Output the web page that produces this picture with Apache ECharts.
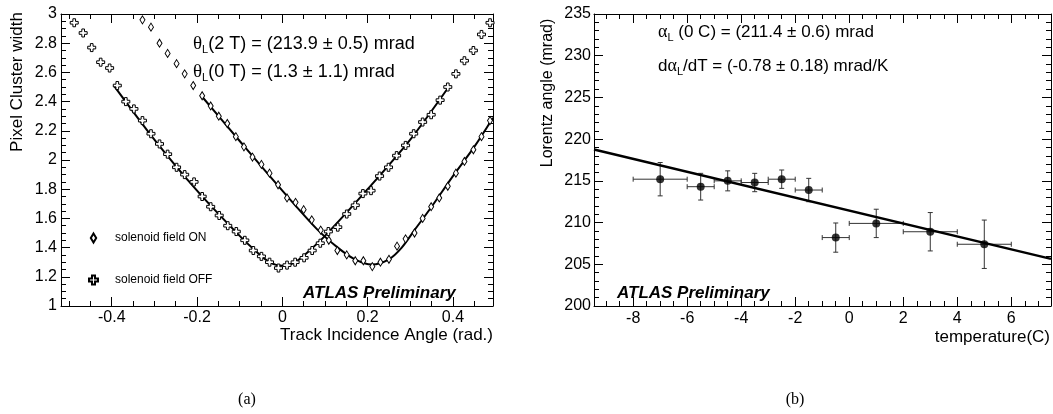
<!DOCTYPE html>
<html>
<head>
<meta charset="utf-8">
<script src="https://cdn.jsdelivr.net/npm/echarts@6/dist/echarts.min.js"></script>
<style>
  html, body { margin: 0; padding: 0; background: #fff; }
  #chart { width: 1053px; height: 414px; }
</style>
</head>
<body>
<div id="chart"></div>
<script>
// (a) pixel cluster width vs track incidence angle
const offAngle = [-0.488, -0.467, -0.447, -0.426, -0.405, -0.387, -0.367, -0.348, -0.328, -0.308,
  -0.288, -0.269, -0.248, -0.229, -0.207, -0.188, -0.168, -0.148, -0.128, -0.108,
  -0.088, -0.068, -0.049, -0.030, -0.009, 0.011, 0.030, 0.051, 0.070, 0.089,
  0.108, 0.130, 0.151, 0.171, 0.189, 0.208, 0.228, 0.249, 0.268, 0.289,
  0.308, 0.329, 0.349, 0.370, 0.388, 0.407, 0.427, 0.448, 0.467, 0.487];
const offWidth = [2.94, 2.87, 2.77, 2.67, 2.63, 2.51, 2.40, 2.35, 2.27, 2.18,
  2.11, 2.04, 1.95, 1.90, 1.85, 1.75, 1.68, 1.62, 1.55, 1.51,
  1.45, 1.38, 1.34, 1.30, 1.26, 1.28, 1.30, 1.33, 1.38, 1.43,
  1.51, 1.54, 1.63, 1.69, 1.77, 1.79, 1.89, 1.95, 2.03, 2.10,
  2.18, 2.26, 2.31, 2.41, 2.50, 2.59, 2.68, 2.75, 2.86, 2.94];

const onAngle = [-0.328, -0.308, -0.288, -0.269, -0.248, -0.229, -0.209, -0.188, -0.168, -0.149,
  -0.129, -0.109, -0.090, -0.070, -0.049, -0.030, -0.010, 0.011, 0.031, 0.050,
  0.069, 0.090, 0.109, 0.129, 0.151, 0.171, 0.190, 0.211, 0.230, 0.250,
  0.269, 0.289, 0.310, 0.329, 0.349, 0.368, 0.388, 0.407, 0.427, 0.448,
  0.467, 0.487];
const onWidth = [2.96, 2.91, 2.80, 2.73, 2.66, 2.59, 2.51, 2.44, 2.37, 2.30,
  2.25, 2.16, 2.09, 2.02, 1.97, 1.91, 1.83, 1.74, 1.71, 1.66,
  1.59, 1.52, 1.45, 1.38, 1.35, 1.31, 1.31, 1.27, 1.30, 1.32,
  1.41, 1.46, 1.50, 1.60, 1.68, 1.74, 1.82, 1.91, 1.99, 2.07,
  2.16, 2.27];

// fit curves
const offFitAngle = [-0.395, -0.3, -0.2, -0.1, -0.06, -0.03, 0.0, 0.03, 0.06, 0.1, 0.2, 0.3, 0.39];
const offFitWidth = [2.51, 2.14, 1.79, 1.48, 1.37, 1.30, 1.275, 1.30, 1.37, 1.48, 1.80, 2.14, 2.50];
const onFitAngle = [-0.19, -0.1, 0.0, 0.08, 0.13, 0.17, 0.21, 0.25, 0.28, 0.31, 0.35, 0.40, 0.45, 0.494];
const onFitWidth = [2.44, 2.13, 1.79, 1.53, 1.40, 1.32, 1.285, 1.32, 1.40, 1.52, 1.68, 1.89, 2.09, 2.29];

// (b) Lorentz angle vs temperature
const temperature = [-7, -5.5, -4.5, -3.5, -2.5, -1.5, -0.5, 1, 3, 5];
const temperatureErr = [1, 0.5, 0.5, 0.5, 0.5, 0.5, 0.5, 1, 1, 1];
const lorentzAngle = [215.2, 214.3, 215.0, 214.8, 215.2, 213.9, 208.2, 209.9, 208.9, 207.4];
const lorentzAngleErr = [2.0, 1.6, 1.2, 1.1, 1.1, 1.4, 1.75, 1.7, 2.3, 2.9];
const lineTemp = [-9.45, 7.47];
const lineAngle = [218.75, 205.65];

const FONT = "'Liberation Sans', Arial, Helvetica, sans-serif";
const SERIF = "'Liberation Serif', 'Times New Roman', serif";
const DIAMOND = "path://M3,0 L6,5 L3,10 L0,5 Z";
const CROSS = "path://M3,0 L6,0 L6,3 L9,3 L9,6 L6,6 L6,9 L3,9 L3,6 L0,6 L0,3 L3,3 Z";

const zip = (xs, ys) => xs.map((x, i) => [x, ys[i]]);

function frameAxis(extra) {
  return Object.assign({
    type: "value",
    axisLine: { show: true, onZero: false, lineStyle: { color: "#000", width: 1 } },
    axisTick: { show: true, inside: true, length: 9, lineStyle: { color: "#000" } },
    splitLine: { show: false },
  }, extra);
}
const minor = (n) => ({ show: true, splitNumber: n, length: 5, lineStyle: { color: "#000" } });
const labels = (margin, edges) => ({ color: "#000", fontSize: 16, fontFamily: FONT, margin,
  showMinLabel: edges, showMaxLabel: edges });

const annot = (x, y, text, size) => ({
  type: "text", x, y,
  style: {
    text, font: size + "px " + FONT, fill: "#000", lineHeight: 22,
    rich: { s: { fontFamily: SERIF, fontSize: size + 1, lineHeight: 22 },
            sub: { fontSize: 11, lineHeight: 11, verticalAlign: "bottom" } },
  },
});

const chart = echarts.init(document.getElementById("chart"), null, { renderer: "canvas" });

const option = {
  animation: false,
  backgroundColor: "#fff",
  grid: [
    { left: 61, top: 14, width: 432, height: 292 },
    { left: 594, top: 14, width: 457, height: 292 },
  ],
  xAxis: [
    frameAxis({ gridIndex: 0, position: "bottom", min: -0.519, max: 0.494, splitNumber: 5,
      minorTick: minor(4), axisLabel: labels(4, false) }),
    frameAxis({ gridIndex: 0, position: "top", min: -0.519, max: 0.494, splitNumber: 5,
      minorTick: minor(4), axisLabel: { show: false } }),
    frameAxis({ gridIndex: 1, position: "bottom", min: -9.45, max: 7.47, splitNumber: 8,
      minorTick: minor(4), axisLabel: labels(5, false) }),
    frameAxis({ gridIndex: 1, position: "top", min: -9.45, max: 7.47, splitNumber: 8,
      minorTick: minor(4), axisLabel: { show: false } }),
  ],
  yAxis: [
    frameAxis({ gridIndex: 0, position: "left", min: 1, max: 3, interval: 0.2,
      minorTick: minor(4), axisLabel: labels(4, true) }),
    frameAxis({ gridIndex: 0, position: "right", min: 1, max: 3, interval: 0.2,
      minorTick: minor(4), axisLabel: { show: false } }),
    frameAxis({ gridIndex: 1, position: "left", min: 200, max: 235, interval: 5,
      minorTick: minor(5), axisLabel: labels(3, true) }),
    frameAxis({ gridIndex: 1, position: "right", min: 200, max: 235, interval: 5,
      minorTick: minor(5), axisLabel: { show: false } }),
  ],
  legend: {
    orient: "vertical",
    left: 83,
    top: 226,
    itemWidth: 9,
    itemHeight: 9,
    itemGap: 28,
    symbolKeepAspect: true,
    data: ["solenoid field ON", "solenoid field OFF"],
    textStyle: { color: "#000", fontSize: 12, fontFamily: FONT, lineHeight: 14, padding: [0, 0, 0, 12] },
  },
  series: [
    {
      name: "fit OFF", type: "line", xAxisIndex: 0, yAxisIndex: 0,
      data: zip(offFitAngle, offFitWidth), smooth: 0.3, showSymbol: false, silent: true,
      lineStyle: { color: "#000", width: 2 }, z: 1,
    },
    {
      name: "fit ON", type: "line", xAxisIndex: 0, yAxisIndex: 0,
      data: zip(onFitAngle, onFitWidth), smooth: 0.3, showSymbol: false, silent: true,
      lineStyle: { color: "#000", width: 2 }, z: 1,
    },
    {
      name: "solenoid field ON", type: "scatter", xAxisIndex: 0, yAxisIndex: 0,
      data: zip(onAngle, onWidth), symbol: DIAMOND, symbolSize: [5, 8],
      itemStyle: { color: "#fff", borderColor: "#000", borderWidth: 1, opacity: 1 }, z: 3,
    },
    {
      name: "solenoid field OFF", type: "scatter", xAxisIndex: 0, yAxisIndex: 0,
      data: zip(offAngle, offWidth), symbol: CROSS, symbolSize: 8,
      itemStyle: { color: "#fff", borderColor: "#000", borderWidth: 1, opacity: 1 }, z: 3,
    },
    {
      name: "errors", type: "custom", xAxisIndex: 2, yAxisIndex: 2,
      data: temperature.map((t, i) => [t, lorentzAngle[i], temperatureErr[i], lorentzAngleErr[i]]),
      renderItem: function (params, api) {
        const x = api.value(0), y = api.value(1), ex = api.value(2), ey = api.value(3);
        const l = api.coord([x - ex, y]), r = api.coord([x + ex, y]);
        const t = api.coord([x, y + ey]), b = api.coord([x, y - ey]);
        const c = 2.5;
        const st = { stroke: "#333", lineWidth: 1 };
        const seg = (x1, y1, x2, y2) => ({ type: "line", shape: { x1, y1, x2, y2 }, style: st });
        return {
          type: "group",
          children: [
            seg(l[0], l[1], r[0], r[1]),
            seg(t[0], t[1], b[0], b[1]),
            seg(l[0], l[1] - c, l[0], l[1] + c),
            seg(r[0], r[1] - c, r[0], r[1] + c),
            seg(t[0] - c, t[1], t[0] + c, t[1]),
            seg(b[0] - c, b[1], b[0] + c, b[1]),
          ],
        };
      },
      z: 2,
    },
    {
      name: "fit", type: "line", xAxisIndex: 2, yAxisIndex: 2,
      data: zip(lineTemp, lineAngle), showSymbol: false, silent: true,
      lineStyle: { color: "#000", width: 2.5 }, z: 3,
    },
    {
      name: "Lorentz angle", type: "scatter", xAxisIndex: 2, yAxisIndex: 2,
      data: zip(temperature, lorentzAngle), symbol: "circle", symbolSize: 8,
      itemStyle: { color: "#000" }, z: 4,
    },
  ],
  graphic: [
    { type: "text", x: 17, y: 82, rotation: Math.PI / 2,
      style: { text: "Pixel Cluster width", font: "17px " + FONT, fill: "#000", align: "center", verticalAlign: "middle" } },
    { type: "text", x: 493, y: 335,
      style: { text: "Track Incidence Angle (rad.)", font: "17px " + FONT, fill: "#000", align: "right", verticalAlign: "middle" } },
    annot(193, 33, "{s|θ}{sub|L}(2 T) = (213.9 ± 0.5) mrad", 18),
    annot(193, 61, "{s|θ}{sub|L}(0 T) = (1.3 ± 1.1) mrad", 18),
    { type: "text", x: 303, y: 293,
      style: { text: "ATLAS Preliminary", font: "italic bold 17px " + FONT, fill: "#000", verticalAlign: "middle" } },
    { type: "text", x: 548, y: 93, rotation: Math.PI / 2,
      style: { text: "Lorentz angle (mrad)", font: "16px " + FONT, fill: "#000", align: "center", verticalAlign: "middle" } },
    { type: "text", x: 1050, y: 337,
      style: { text: "temperature(C)", font: "17px " + FONT, fill: "#000", align: "right", verticalAlign: "middle" } },
    annot(658, 21, "{s|α}{sub|L} (0 C) = (211.4 ± 0.6) mrad", 17),
    annot(658, 55, "d{s|α}{sub|L}/dT = (-0.78 ± 0.18) mrad/K", 17),
    { type: "text", x: 617, y: 293,
      style: { text: "ATLAS Preliminary", font: "italic bold 17px " + FONT, fill: "#000", verticalAlign: "middle" } },
    { type: "text", x: 247, y: 400,
      style: { text: "(a)", font: "16px " + SERIF, fill: "#000", align: "center", verticalAlign: "middle" } },
    { type: "text", x: 795, y: 400,
      style: { text: "(b)", font: "16px " + SERIF, fill: "#000", align: "center", verticalAlign: "middle" } },
  ],
};

chart.setOption(option);
</script>
</body>
</html>
